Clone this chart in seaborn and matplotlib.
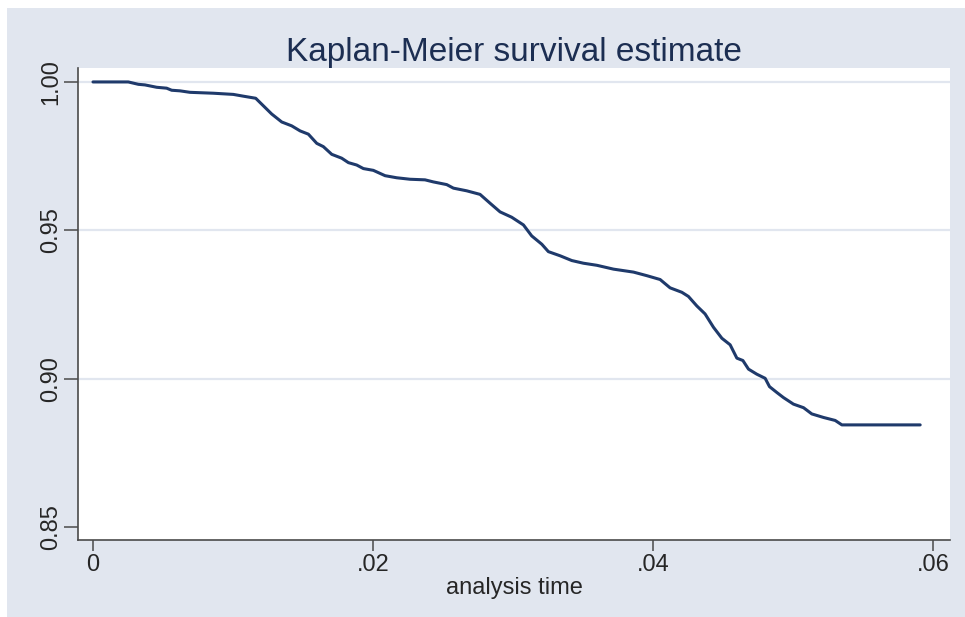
import pandas as pd
import matplotlib.pyplot as plt
import matplotlib.patches as mpatches
import seaborn as sns

# Kaplan-Meier curve
time = [0.0, 0.00252, 0.00324, 0.00371, 0.00455, 0.00526, 0.00562, 0.00621, 0.00693,
        0.00859, 0.01002, 0.01074, 0.01162, 0.01276, 0.01348, 0.01419, 0.01479, 0.01538,
        0.01598, 0.01645, 0.01705, 0.01776, 0.01824, 0.01883, 0.01931, 0.02002, 0.02086,
        0.02169, 0.02264, 0.02371, 0.02431, 0.02526, 0.02574, 0.02669, 0.02764, 0.02836,
        0.02907, 0.02990, 0.03074, 0.03133, 0.03205, 0.03252, 0.03336, 0.03419, 0.03502,
        0.03598, 0.03717, 0.03860, 0.03955, 0.04050, 0.04121, 0.04205, 0.04252, 0.04312,
        0.04371, 0.04431, 0.04491, 0.04550, 0.04598, 0.04641, 0.04681, 0.04740, 0.04800,
        0.04831, 0.04884, 0.04931, 0.05002, 0.05074, 0.05133, 0.05217, 0.05300, 0.05348,
        0.05907]
survival = [1.0, 1.0, 0.9992, 0.9990, 0.9982, 0.9979, 0.9972, 0.9970, 0.9965,
            0.9962, 0.9958, 0.9952, 0.9945, 0.9892, 0.9865, 0.9852, 0.9835, 0.9824,
            0.9793, 0.9782, 0.9756, 0.9743, 0.9728, 0.9720, 0.9708, 0.9702, 0.9684,
            0.9677, 0.9672, 0.9670, 0.9663, 0.9654, 0.9642, 0.9633, 0.9621, 0.9591,
            0.9562, 0.9544, 0.9518, 0.9481, 0.9453, 0.9428, 0.9414, 0.9398, 0.9389,
            0.9382, 0.9369, 0.9359, 0.9347, 0.9334, 0.9306, 0.9291, 0.9277, 0.9245,
            0.9218, 0.9173, 0.9136, 0.9114, 0.9069, 0.9061, 0.9032, 0.9015, 0.9001,
            0.8973, 0.8953, 0.8936, 0.8914, 0.8902, 0.8881, 0.8869, 0.8859, 0.8844,
            0.8844]

x_ticks = [0, 0.02, 0.04, 0.06]
x_labels = ['0', '.02', '.04', '.06']
y_ticks = [0.85, 0.90, 0.95, 1.00]
y_labels = ['0.85', '0.90', '0.95', '1.00']

df = pd.DataFrame({'time': time, 'survival': survival})

bg = '#e1e6ef'
sns.set_style('white')
plt.rcParams['font.family'] = ['Liberation Sans', 'DejaVu Sans']

fig = plt.figure(figsize=(9.65, 6.17), dpi=100, facecolor=bg)
# thin white strips on top and left like the original crop
fig.patches.append(mpatches.Rectangle((0, 1 - 8 / 617), 1, 8 / 617, transform=fig.transFigure,
                                      facecolor='white', edgecolor='none', zorder=0))
fig.patches.append(mpatches.Rectangle((0, 0), 7 / 965, 1, transform=fig.transFigure,
                                      facecolor='white', edgecolor='none', zorder=0))

ax = fig.add_axes([78 / 965, 1 - 540 / 617, (950 - 78) / 965, (540 - 68) / 617])
ax.set_facecolor('white')

sns.lineplot(x='time', y='survival', data=df, ax=ax, color='#1f3a6b', linewidth=2.2,
             sort=False, estimator=None, zorder=3)

ax.set_xlim(-0.00107, 0.0612)
ax.set_ylim(0.8456, 1.0047)
ax.set_xticks(x_ticks)
ax.set_xticklabels(x_labels)
ax.set_yticks(y_ticks)
ax.set_yticklabels(y_labels, rotation=90, va='center')

ax.yaxis.grid(True, color=bg, linewidth=1.6)
ax.yaxis.get_gridlines()[0].set_visible(False)
ax.set_axisbelow(True)

for s in ['top', 'right']:
    ax.spines[s].set_visible(False)
for s in ['left', 'bottom']:
    ax.spines[s].set_color('#4a4a4a')
    ax.spines[s].set_linewidth(1.2)

ax.tick_params(axis='y', direction='out', length=10, width=1.1, color='#4a4a4a',
               labelsize=17, pad=1.5, left=True)
ax.tick_params(axis='x', direction='out', length=8, width=1.1, color='#4a4a4a',
               labelsize=17, pad=2, bottom=True)

ax.set_xlabel('analysis time', fontsize=17, labelpad=1)
ax.set_ylabel('')
ax.set_title('Kaplan-Meier survival estimate', fontsize=24, color='#1c2e52', pad=5)

fig.savefig('out.png', dpi=100, facecolor=bg)
